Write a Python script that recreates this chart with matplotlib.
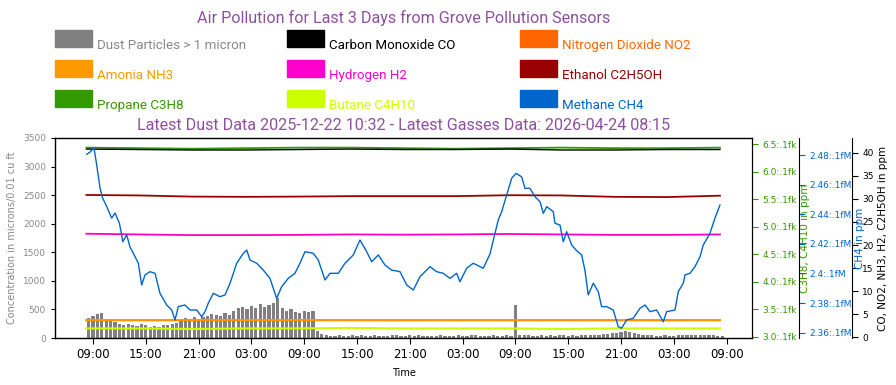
import numpy as np
import pandas as pd
import matplotlib
matplotlib.use("Agg")
import matplotlib.pyplot as plt
import matplotlib.dates as mdates
from matplotlib.patches import Rectangle
from matplotlib.ticker import FuncFormatter, MultipleLocator

# reference time: first 09:00 on the x axis
t0 = pd.Timestamp("2026-04-21 09:00")

# dust particles (half hour bins starting 08:15)
dust_values = [
    350, 380, 420, 440, 330, 300, 280, 240, 220, 250, 230, 210, 240, 220, 200,
    210, 200, 230, 220, 240, 260, 320, 350, 330, 370, 340, 360, 380, 420, 400,
    390, 430, 410, 480, 520, 540, 500, 560, 520, 600, 540, 580, 620, 700, 520,
    480, 500, 460, 440, 480, 450, 470, 120, 70, 55,
    40, 35, 45, 30, 40, 50, 35, 45, 30, 40, 55, 35,
    40, 30, 45, 60, 35, 40, 50, 30, 45, 35, 40, 30,
    35, 45, 30, 40, 35, 50, 40, 30, 45, 55, 35, 40,
    30, 50, 40, 35, 45, 40, 580, 60, 45, 50, 40, 35,
    45, 40, 50, 35, 55, 45, 40, 50, 35, 45, 60, 50,
    55, 60, 70, 65, 80, 95, 110, 120, 100, 85, 70, 60,
    50, 45, 40, 35, 45, 40, 30, 45, 55, 50, 60, 55,
    60, 55, 50, 45, 40, 35,
]
dust_times = pd.date_range("2026-04-21 08:15", periods=len(dust_values), freq="30min")

# gases sampled every 6 hours (hours after t0)
gas_hours = [-0.75, 5.25, 11.25, 17.25, 23.25, 29.25, 35.25, 41.25, 47.25, 53.25, 59.25, 65.25, 71.25]
co_ppm = [40.8, 40.7, 40.6, 40.6, 40.7, 40.8, 40.7, 40.7, 40.8, 40.6, 40.6, 40.7, 40.7]
no2_ppm = [3.68, 3.68, 3.67, 3.68, 3.68, 3.68, 3.67, 3.68, 3.68, 3.68, 3.68, 3.67, 3.68]
nh3_ppm = [3.68, 3.68, 3.68, 3.68, 3.68, 3.68, 3.68, 3.68, 3.68, 3.68, 3.68, 3.68, 3.68]
h2_ppm = [22.45, 22.3, 22.15, 22.15, 22.2, 22.3, 22.25, 22.3, 22.4, 22.3, 22.2, 22.2, 22.3]
ethanol_ppm = [30.85, 30.75, 30.5, 30.45, 30.5, 30.6, 30.6, 30.6, 30.8, 30.75, 30.45, 30.4, 30.7]
propane_ppm = [6.44, 6.43, 6.42, 6.43, 6.44, 6.44, 6.43, 6.42, 6.43, 6.44, 6.43, 6.43, 6.44]
butane_ppm = [3.15, 3.15, 3.14, 3.15, 3.15, 3.16, 3.15, 3.15, 3.15, 3.14, 3.15, 3.15, 3.15]

# methane trace
ch4_hours = [
    -0.72, -0.34, 0.11, 0.42, 0.80, 1.10, 1.48, 2.12, 2.50, 2.99, 3.26, 3.38, 3.83,
    4.20, 4.58, 5.15, 5.53, 5.91, 6.48, 7.05, 7.61, 8.37, 8.94, 9.32, 9.69, 10.45,
    11.02, 11.78, 12.35, 12.73, 13.10, 13.67, 14.43, 15.00, 15.57, 16.33, 17.08,
    17.47, 17.84, 18.60, 19.35, 20.11, 20.87, 21.44, 22.19, 22.95, 23.52, 24.09,
    25.03, 25.60, 26.36, 26.93, 27.87, 28.64, 29.58, 30.34, 31.10, 31.67, 32.42,
    33.18, 33.94, 34.89, 35.65, 36.40, 37.16, 38.30, 39.05, 39.80, 40.57, 41.33,
    41.70, 42.46, 43.21, 44.35, 45.11, 45.68, 46.05, 46.44, 47.01, 47.58, 48.07,
    48.71, 49.09, 49.66, 50.23, 50.80, 51.17, 51.56, 52.31, 52.50, 53.07, 53.44,
    53.83, 54.40, 54.89, 55.53, 55.90, 56.28, 56.85, 57.42, 57.80, 58.37, 59.12,
    59.69, 60.07, 60.64, 61.39, 62.16, 62.73, 63.30, 64.05, 64.81, 65.19, 66.14,
    66.51, 67.08, 67.27, 67.84, 68.41, 68.98, 69.35, 70.11, 70.68, 71.25,
]
ch4_mppm = [
    2.4805, 2.4820, 2.4849, 2.4732, 2.4577, 2.4508, 2.4462, 2.4374, 2.4408, 2.4341,
    2.4260, 2.4214, 2.4260, 2.4179, 2.4136, 2.4069, 2.3922, 2.3990, 2.4012, 2.4001,
    2.3866, 2.3787, 2.3753, 2.3686, 2.3776, 2.3787, 2.3753, 2.3753, 2.3708, 2.3742,
    2.3799, 2.3866, 2.3843, 2.3855, 2.3934, 2.4069, 2.4136, 2.4158, 2.4091, 2.4069,
    2.4023, 2.3967, 2.3832, 2.3911, 2.3967, 2.4001, 2.4069, 2.4147, 2.4136, 2.4091,
    2.3956, 2.4001, 2.4001, 2.4069, 2.4125, 2.4226, 2.4147, 2.4079, 2.4125, 2.4057,
    2.4023, 2.4012, 2.3922, 2.3888, 2.3978, 2.4046, 2.4012, 2.4001, 2.3967, 2.4001,
    2.3944, 2.4035, 2.4069, 2.4035, 2.4131, 2.4271, 2.4361, 2.4417, 2.4530, 2.4643,
    2.4676, 2.4653, 2.4575, 2.4575, 2.4518, 2.4485, 2.4406, 2.4451, 2.4417, 2.4339,
    2.4327, 2.4214, 2.4282, 2.4192, 2.4158, 2.4125, 2.4023, 2.3855, 2.3934, 2.3877,
    2.3776, 2.3776, 2.3753, 2.3641, 2.3630, 2.3686, 2.3697, 2.3765, 2.3787, 2.3742,
    2.3753, 2.3674, 2.3742, 2.3753, 2.3877, 2.3934, 2.3990, 2.4001, 2.4046, 2.4113,
    2.4192, 2.4271, 2.4374, 2.4462,
]

legend_names = [
    "Dust Particles > 1 micron", "Carbon Monoxide CO", "Nitrogen Dioxide NO2",
    "Amonia NH3", "Hydrogen H2", "Ethanol C2H5OH",
    "Propane C3H8", "Butane C4H10", "Methane CH4",
]
legend_colors = [
    "#808080", "#000000", "#ff6600",
    "#ff9900", "#ff00cc", "#990000",
    "#339900", "#ccff00", "#0066cc",
]

title1 = "Air Pollution for Last 3 Days from Grove Pollution Sensors"
title2 = "Latest Dust Data 2025-12-22 10:32 - Latest Gasses Data: 2026-04-24 08:15"
purple = "#8e4fa0"

W, H = 896, 385
fig = plt.figure(figsize=(W / 100, H / 100), dpi=100)
ax = fig.add_axes([55 / W, 1 - 338 / H, 697 / W, 200 / H])

gas_times = t0 + pd.to_timedelta(gas_hours, unit="h")
ch4_times = t0 + pd.to_timedelta(ch4_hours, unit="h")

# dust bars
ax.bar(dust_times + pd.Timedelta(minutes=15), dust_values, width=0.7 / 48,
       color="#808080", edgecolor="none", zorder=2)
ax.set_ylim(0, 3500)
ax.set_xlim(t0 - pd.Timedelta(hours=4.32), t0 + pd.Timedelta(hours=74.89))
ax.yaxis.set_major_locator(MultipleLocator(500))
ax.tick_params(axis="y", labelsize=6.5, labelcolor="#888888", length=3)
ax.set_ylabel("Concentration in microns/0.01 cu ft", color="#888888", fontsize=7, labelpad=4)
ax.xaxis.set_major_locator(mdates.HourLocator(byhour=[3, 9, 15, 21]))
ax.xaxis.set_major_formatter(mdates.DateFormatter("%H:%M"))
ax.tick_params(axis="x", labelsize=8.5, length=4)
ax.set_xlabel("Time", fontsize=7, labelpad=5)

# propane / butane axis
ax_g = ax.twinx()
ax_g.plot(gas_times, propane_ppm, color="#339900", lw=1.3)
ax_g.plot(gas_times, butane_ppm, color="#ccff00", lw=1.5)
ax_g.set_ylim(2.976, 6.615)
ax_g.yaxis.set_major_locator(MultipleLocator(0.5))
ax_g.yaxis.set_major_formatter(FuncFormatter(lambda v, p: f"{v:.1f}:.1fk"))
ax_g.tick_params(axis="y", colors="#339900", labelsize=6.5, length=4)
ax_g.set_ylabel("C3H8, C4H10 in ppm", color="#339900", fontsize=7.5, labelpad=2)

# CO, NO2, NH3, H2, ethanol axis
ax_k = ax.twinx()
ax_k.spines["right"].set_position(("axes", 1 + 100 / 697))
ax_k.plot(gas_times, no2_ppm, color="#ff6600", lw=1.3)
ax_k.plot(gas_times, nh3_ppm, color="#ff9900", lw=1.3)
ax_k.plot(gas_times, h2_ppm, color="#ff00cc", lw=1.3)
ax_k.plot(gas_times, ethanol_ppm, color="#990000", lw=1.3)
ax_k.plot(gas_times, co_ppm, color="#000000", lw=1.0)
ax_k.set_ylim(-0.15, 43.2)
ax_k.yaxis.set_major_locator(MultipleLocator(5))
ax_k.tick_params(axis="y", labelsize=6.5, length=4)
ax_k.set_ylabel("CO, NO2, NH3, H2, C2H5OH in ppm", fontsize=7.5, labelpad=3)

# methane axis
ax_b = ax.twinx()
ax_b.spines["right"].set_position(("axes", 1 + 47 / 697))
ax_b.plot(ch4_times, ch4_mppm, color="#0066cc", lw=1.0)
ax_b.set_ylim(2.3564, 2.4915)
ax_b.yaxis.set_major_locator(MultipleLocator(0.02))
ax_b.yaxis.set_major_formatter(FuncFormatter(lambda v, p: f"{round(v, 2):g}:.1fM"))
ax_b.tick_params(axis="y", colors="#0066cc", labelsize=6.5, length=4)
ax_b.set_ylabel("CH4 in ppm", color="#0066cc", fontsize=7.5, labelpad=2)

# titles
cx = (55 + 752) / 2 / W
fig.text(cx, 1 - 23 / H, title1, ha="center", va="baseline", color=purple,
         fontsize=11.6, family="Roboto")
fig.text(cx, 1 - 130 / H, title2, ha="center", va="baseline", color=purple,
         fontsize=11.6, family="Roboto")

# legend drawn as a 3x3 grid of patches
col_x = [55, 287, 520]
row_y = [30, 60, 90]
for i, (name, c) in enumerate(zip(legend_names, legend_colors)):
    x0 = col_x[i % 3]
    y0 = row_y[i // 3]
    fig.add_artist(Rectangle((x0 / W, 1 - (y0 + 17) / H), 37 / W, 17 / H,
                             transform=fig.transFigure, color=c))
    fig.text((x0 + 42) / W, 1 - (y0 + 19) / H, name, color=c if i else "#888888",
             fontsize=9.6, family="Roboto", va="baseline")

fig.savefig("out.png", dpi=100)
